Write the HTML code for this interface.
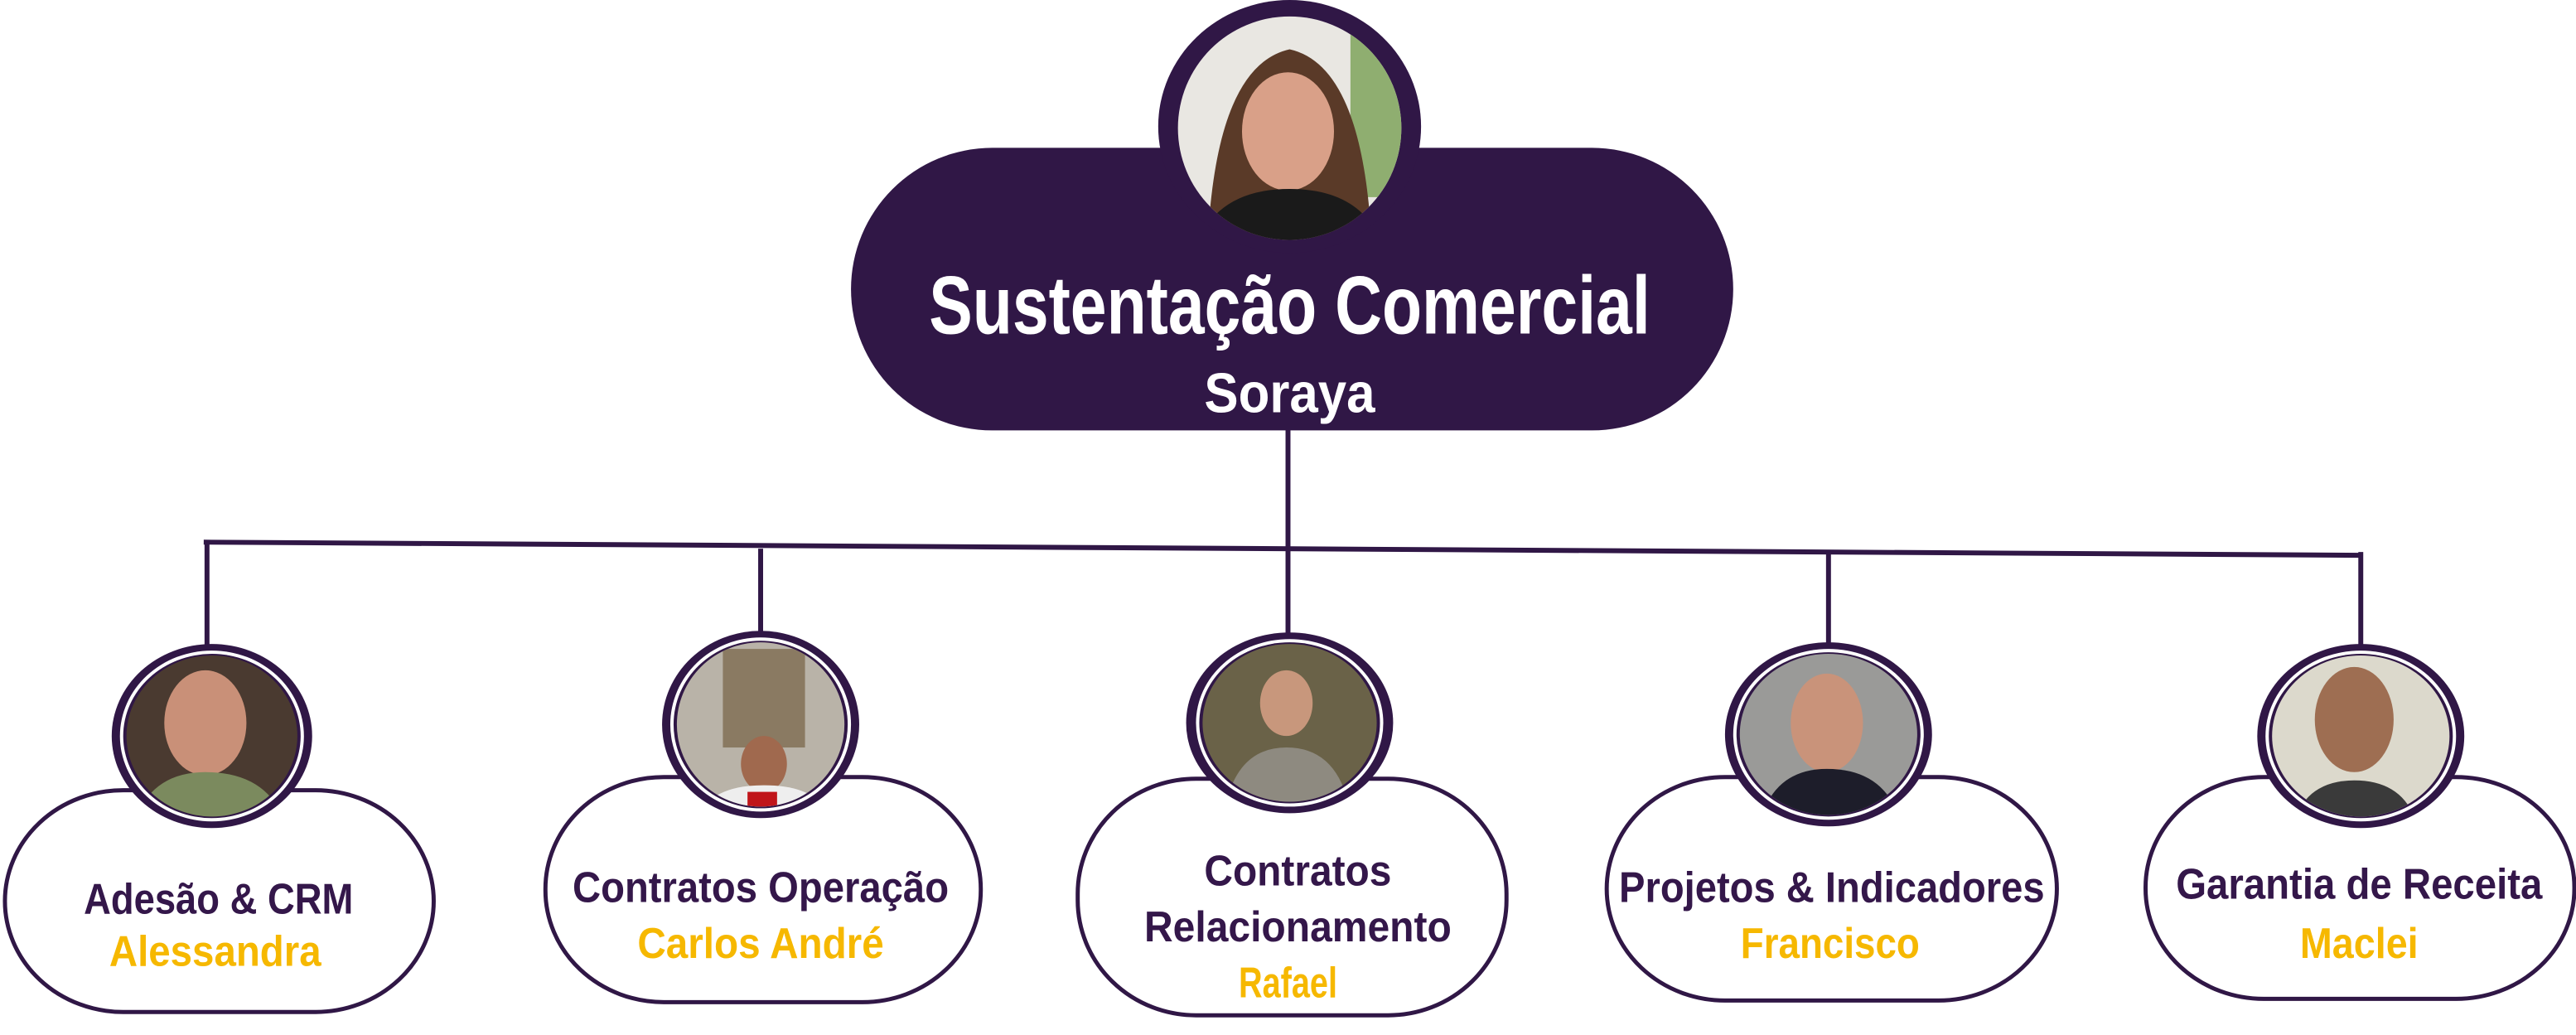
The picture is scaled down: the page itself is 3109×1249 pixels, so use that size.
<!DOCTYPE html>
<html><head><meta charset="utf-8"><style>
html,body{margin:0;padding:0;background:#fff;}
svg{display:block;}
text{font-family:"Liberation Sans",sans-serif;font-weight:bold;}
</style></head><body>
<svg width="3109" height="1249" viewBox="0 0 1568 630" preserveAspectRatio="none" xmlns="http://www.w3.org/2000/svg">
<defs>
<clipPath id="c0"><ellipse cx="785" cy="78" rx="68" ry="68"/></clipPath>
<clipPath id="c1"><ellipse cx="129" cy="448" rx="52" ry="49"/></clipPath>
<clipPath id="c2"><ellipse cx="463" cy="441" rx="51" ry="50"/></clipPath>
<clipPath id="c3"><ellipse cx="785" cy="440" rx="53" ry="48"/></clipPath>
<clipPath id="c4"><ellipse cx="1113" cy="447" rx="54" ry="49"/></clipPath>
<clipPath id="c5"><ellipse cx="1437" cy="448" rx="54" ry="49"/></clipPath>
</defs>
<g stroke="#301746" stroke-width="3" fill="none">
<line x1="784" y1="255" x2="784" y2="390"/>
<line x1="124" y1="330" x2="1438" y2="338"/>
<line x1="126" y1="330" x2="126" y2="395"/>
<line x1="463" y1="334" x2="463" y2="388"/>
<line x1="1113" y1="336" x2="1113" y2="395"/>
<line x1="1437" y1="336" x2="1437" y2="395"/>
</g>
<rect x="518" y="90" width="537" height="172" rx="86" fill="#301746"/>
<ellipse cx="785" cy="77" rx="80" ry="77" fill="#301746"/>
<g clip-path="url(#c0)">
<rect x="700" y="0" width="170" height="160" fill="#e9e7e2"/>
<rect x="822" y="10" width="40" height="110" fill="#8fae70"/>
<path d="M735 150 Q740 40 785 30 Q830 40 835 150 Z" fill="#5a3a28"/>
<ellipse cx="784" cy="80" rx="28" ry="36" fill="#d9a088"/>
<path d="M725 160 Q735 115 785 115 Q835 115 845 160 Z" fill="#1a1a1a"/>
</g>
<text x="785" y="203" fill="#fff" font-size="50" text-anchor="middle" textLength="439" lengthAdjust="spacingAndGlyphs">Sustentação Comercial</text>
<text x="785" y="251" fill="#fff" font-size="34" text-anchor="middle" textLength="104" lengthAdjust="spacingAndGlyphs">Soraya</text>

<g fill="#fff" stroke="#301746" stroke-width="2.5">
<rect x="3" y="481" width="261" height="135" rx="72" ry="68"/>
<rect x="332" y="473" width="265" height="137" rx="72" ry="68"/>
<rect x="656" y="474" width="261" height="144" rx="72" ry="70"/>
<rect x="978" y="473" width="274" height="136" rx="72" ry="68"/>
<rect x="1306" y="473" width="261" height="135" rx="72" ry="67"/>
</g>

<g>
<ellipse cx="129" cy="448" rx="61" ry="56" fill="#301746"/><ellipse cx="129" cy="448" rx="56" ry="52" fill="#fff"/><ellipse cx="129" cy="448" rx="54" ry="50" fill="#301746"/>
<g clip-path="url(#c1)"><rect x="70" y="395" width="120" height="110" fill="#4a3a30"/><ellipse cx="125" cy="440" rx="25" ry="32" fill="#c99078"/><path d="M80 505 Q90 470 125 470 Q165 470 175 505Z" fill="#7b8a5e"/></g>

<ellipse cx="463" cy="441" rx="60" ry="57" fill="#301746"/><ellipse cx="463" cy="441" rx="55" ry="53" fill="#fff"/><ellipse cx="463" cy="441" rx="53" ry="51" fill="#301746"/>
<g clip-path="url(#c2)"><rect x="405" y="385" width="120" height="115" fill="#b9b3a8"/><rect x="440" y="395" width="50" height="60" fill="#8a7a62"/><ellipse cx="465" cy="465" rx="14" ry="17" fill="#a0694e"/><path d="M425 500 Q430 478 465 478 Q500 478 505 500Z" fill="#eee"/><rect x="455" y="482" width="18" height="20" fill="#c0151a"/></g>

<ellipse cx="785" cy="440" rx="63" ry="55" fill="#301746"/><ellipse cx="785" cy="440" rx="57" ry="51" fill="#fff"/><ellipse cx="785" cy="440" rx="55" ry="49" fill="#301746"/>
<g clip-path="url(#c3)"><rect x="725" y="385" width="120" height="110" fill="#6a6248"/><ellipse cx="783" cy="428" rx="16" ry="20" fill="#c8977c"/><path d="M745 495 Q752 455 783 455 Q815 455 822 495Z" fill="#8e8a80"/></g>

<ellipse cx="1113" cy="447" rx="63" ry="56" fill="#301746"/><ellipse cx="1113" cy="447" rx="58" ry="52" fill="#fff"/><ellipse cx="1113" cy="447" rx="56" ry="50" fill="#301746"/>
<g clip-path="url(#c4)"><rect x="1055" y="395" width="120" height="110" fill="#9a9a98"/><ellipse cx="1112" cy="440" rx="22" ry="30" fill="#c9937a"/><path d="M1070 505 Q1078 468 1112 468 Q1150 468 1158 505Z" fill="#1d1d2a"/></g>

<ellipse cx="1437" cy="448" rx="63" ry="56" fill="#301746"/><ellipse cx="1437" cy="448" rx="58" ry="52" fill="#fff"/><ellipse cx="1437" cy="448" rx="56" ry="50" fill="#301746"/>
<g clip-path="url(#c5)"><rect x="1380" y="395" width="120" height="110" fill="#dcd9cc"/><ellipse cx="1433" cy="438" rx="24" ry="32" fill="#9e6e52"/><path d="M1395 505 Q1402 475 1433 475 Q1465 475 1472 505Z" fill="#3a3a3a"/></g>
</g>

<g font-size="26" text-anchor="middle">
<text x="133" y="556" fill="#34174a" textLength="164" lengthAdjust="spacingAndGlyphs">Adesão &amp; CRM</text>
<text x="131" y="588" fill="#f6b800" textLength="129" lengthAdjust="spacingAndGlyphs">Alessandra</text>
<text x="463" y="549" fill="#34174a" textLength="229" lengthAdjust="spacingAndGlyphs">Contratos Operação</text>
<text x="463" y="583" fill="#f6b800" textLength="150" lengthAdjust="spacingAndGlyphs">Carlos André</text>
<text x="790" y="539" fill="#34174a" textLength="114" lengthAdjust="spacingAndGlyphs">Contratos</text>
<text x="790" y="573" fill="#34174a" textLength="187" lengthAdjust="spacingAndGlyphs">Relacionamento</text>
<text x="784" y="607" fill="#f6b800" textLength="60" lengthAdjust="spacingAndGlyphs">Rafael</text>
<text x="1115" y="549" fill="#34174a" textLength="259" lengthAdjust="spacingAndGlyphs">Projetos &amp; Indicadores</text>
<text x="1114" y="583" fill="#f6b800" textLength="109" lengthAdjust="spacingAndGlyphs">Francisco</text>
<text x="1436" y="547" fill="#34174a" textLength="223" lengthAdjust="spacingAndGlyphs">Garantia de Receita</text>
<text x="1436" y="583" fill="#f6b800" textLength="72" lengthAdjust="spacingAndGlyphs">Maclei</text>
</g>
</svg>
</body></html>
